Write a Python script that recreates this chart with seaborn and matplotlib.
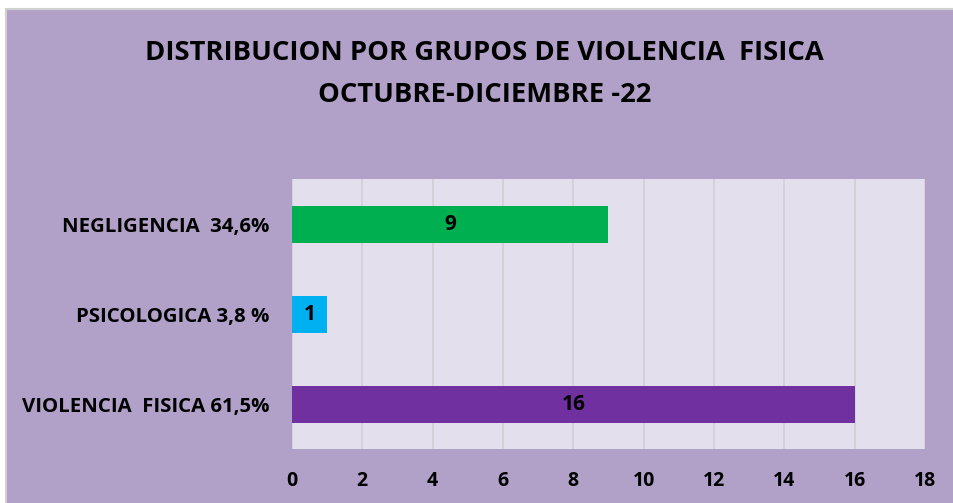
import matplotlib
matplotlib.use("Agg")
import matplotlib.pyplot as plt
import seaborn as sns
import pandas as pd
from matplotlib.patches import Rectangle

categories = ["NEGLIGENCIA  34,6%", "PSICOLOGICA 3,8 %", "VIOLENCIA  FISICA 61,5%"]
values = [9, 1, 16]
colors = ["#00B050", "#00B0F0", "#7030A0"]
xticks = [0, 2, 4, 6, 8, 10, 12, 14, 16, 18]
title = "DISTRIBUCION POR GRUPOS DE VIOLENCIA  FISICA\nOCTUBRE-DICIEMBRE -22"

sns.set_theme(style="white")
plt.rcParams['font.family'] = ['Open Sans', 'DejaVu Sans']

df = pd.DataFrame({"cat": categories, "val": values})

fig = plt.figure(figsize=(9.54, 5.03), dpi=100)
fig.patch.set_facecolor("white")
bg = Rectangle((0.0065, -0.01), 1.0, 0.993, transform=fig.transFigure,
               facecolor="#B1A0C7", edgecolor="#D0D0D0", linewidth=1.5, zorder=-10)
fig.patches.append(bg)

ax = fig.add_axes([0.306, 0.107, 0.6636, 0.537])
ax.set_facecolor("#E4DFEC")
sns.barplot(data=df, x="val", y="cat", hue="cat", palette=colors, dodge=False,
            legend=False, width=0.41, ax=ax, saturation=1, zorder=3, linewidth=0)

ax.set_xlim(0, 18)
ax.set_xticks(xticks)
ax.set_xticklabels([str(t) for t in xticks], fontsize=14, fontweight="bold", color="black")
for lab in ax.get_yticklabels():
    lab.set_fontsize(14.7)
    lab.set_fontweight("bold")
    lab.set_color("black")
ax.tick_params(axis="x", pad=16, length=0)
ax.tick_params(axis="y", pad=16, length=0)
ax.set_xlabel("")
ax.set_ylabel("")
ax.grid(axis="x", color="#D3D1D6", linewidth=1.3, zorder=0)
ax.set_axisbelow(True)
for s in ax.spines.values():
    s.set_visible(False)

for cont in ax.containers:
    ax.bar_label(cont, label_type="center", fontsize=15, fontweight="bold", color="black")

fig.text(0.508, 0.853, title, ha="center", va="center", fontsize=19.7, fontweight="bold",
         color="black", linespacing=1.78)

fig.savefig("out.png", dpi=100, facecolor=fig.get_facecolor())
